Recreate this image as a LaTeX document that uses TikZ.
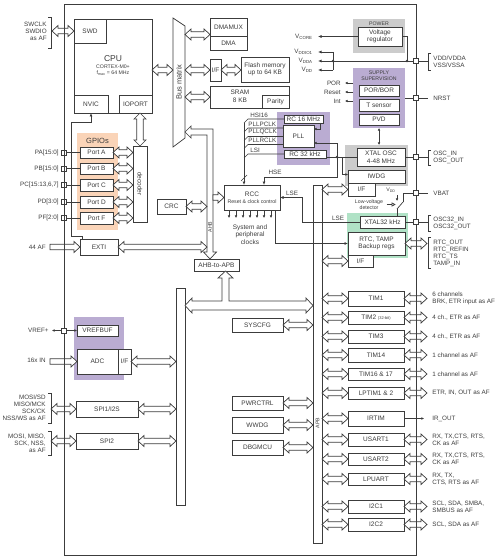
\documentclass[tikz,border=0pt]{standalone}
\usepackage{fontspec}
\setmainfont{Liberation Sans}
\usetikzlibrary{calc,arrows.meta}

\definecolor{ln}{RGB}{60,60,60}
\definecolor{gpiobg}{RGB}{250,212,184}
\definecolor{lilac}{RGB}{186,172,210}
\definecolor{pwrgrey}{RGB}{204,204,204}
\definecolor{rtcgreen}{RGB}{176,226,198}

\newcommand\fsmall{\fontsize{6.5}{7.6}\selectfont}
\newcommand\flbl{\fontsize{6.3}{7}\selectfont}
\newcommand\ftiny{\fontsize{5.2}{6.3}\selectfont}
\newcommand\fmicro{\fontsize{4}{4.5}\selectfont}
\newcommand\fmid{\fontsize{7.5}{9}\selectfont}
\newcommand\fbig{\fontsize{8.5}{10}\selectfont}

% box from corner (x1,y1) to corner (x2,y2), y runs downwards
\newcommand\blk[7][]{\node[blkbox,#1,minimum width={(#5-#3)*1pt},minimum height={(#6-#4)*1pt}] (#2) at ({(#3+#5)/2},{(#4+#6)/2}) {#7};}
% hollow bus arrows
\newcommand\dbarh[2]{\draw[fatarr] let \p1=(#1), \p2=(#2) in (\x1,\y1) -- ++(6pt,5.5pt) -- ++(0pt,-2.8pt) -- ({\x2-6pt},{\y1+2.7pt}) -- ++(0pt,2.8pt) -- (\x2,\y1) -- ++(-6pt,-5.5pt) -- ++(0pt,2.8pt) -- ({\x1+6pt},{\y1-2.7pt}) -- ++(0pt,-2.8pt) -- cycle;}
\newcommand\sarh[2]{\draw[fatarr] let \p1=(#1), \p2=(#2) in (\x1,{\y1+2.7pt}) -- ({\x2-6pt},{\y1+2.7pt}) -- ++(0pt,2.8pt) -- (\x2,\y1) -- ++(-6pt,-5.5pt) -- ++(0pt,2.8pt) -- (\x1,{\y1-2.7pt}) -- cycle;}
\newcommand\dbarv[2]{\draw[fatarr] let \p1=(#1), \p2=(#2) in (\x1,\y1) -- ++(6pt,-6pt) -- ++(-2.8pt,0pt) -- ({\x1+3.2pt},{\y2+6pt}) -- ++(2.8pt,0pt) -- (\x1,\y2) -- ++(-6pt,6pt) -- ++(2.8pt,0pt) -- ({\x1-3.2pt},{\y1-6pt}) -- ++(-2.8pt,0pt) -- cycle;}
% pin brackets
\newcommand\lbrak[3]{\draw (#1,#2) -- ({#1+3},#2) -- ({#1+3},#3) -- (#1,#3);}
\newcommand\rbrak[3]{\draw ({#1+3},#2) -- (#1,#2) -- (#1,#3) -- ({#1+3},#3);}

\begin{document}
\begin{tikzpicture}[x=1pt,y=-1pt,line width=0.7pt,color=ln,
  blkbox/.style={draw,fill=white,inner sep=0pt,outer sep=0pt,align=center,font=\fsmall},
  fatarr/.style={draw,fill=white,line join=miter},
  padsq/.style={draw,fill=white,minimum size=5pt,inner sep=0pt,outer sep=0pt},
  lbl/.style={inner sep=0pt,font=\flbl},
  arr/.style={-{Latex[length=3.5pt,width=3pt]}},
  arrs/.style={-{Latex[length=2.6pt,width=2.6pt]}},
  arrd/.style={{Latex[length=2.6pt,width=2.6pt]}-{Latex[length=2.6pt,width=2.6pt]}}]
\useasboundingbox (0,0) rectangle (499,559);

% shaded groups
\blk[draw=none,fill=pwrgrey]{power}{353}{19}{405}{53}{}
\blk[draw=none,fill=lilac]{supv}{353}{68}{405}{128}{}
\blk[draw=none,fill=lilac]{pllgrp}{277}{112}{330}{165}{}
\blk[draw=none,fill=pwrgrey]{oscgrp}{345}{145}{408}{186}{}
\blk[draw=none,fill=rtcgreen]{rtcgrp}{347}{213}{408}{258}{}
\blk[draw=none,fill=gpiobg]{gpiogrp}{77}{133}{118}{230}{}
\blk[draw=none,fill=lilac]{vrefgrp}{74}{317}{124}{380}{}
\node[font=\ftiny] (powertxt) at (379,23.5) {POWER};
\node[font=\ftiny,align=center] (supvtxt) at (379,75.5) {SUPPLY\\SUPERVISION};
\node[font=\fmid] (gpiotxt) at (97.5,140.5) {GPIOs};

% core
\blk{cpu}{74}{19}{152}{113}{}
\blk{swd}{74}{19}{106}{43}{SWD}
\blk{nvic}{74}{95}{108}{113}{NVIC}
\blk{ioport}{119}{95}{152}{113}{IOPORT}
\node[font=\fbig] (cputxt) at (113,59) {CPU};
\node[font=\ftiny,align=center] (cpusub) at (113,70.5) {CORTEX-M0+\\f\textsubscript{max} = 64 MHz};

\draw (173,18) -- (185,26) -- (185,138) -- (173,147) -- cycle;
\node[rotate=90,font=\fmid] (bmtxt) at (179,82) {Bus matrix};
\coordinate (bml) at (173,70);
\coordinate (bmr) at (185,0);

\blk{dmamux}{210}{18}{247}{36}{DMAMUX}
\blk{dma}{210}{36}{247}{50}{DMA}
\blk{flashif}{210}{59}{221}{81}{I/F}
\blk{flash}{241}{57}{289}{82}{Flash memory\\up to 64 KB}
\blk{sram}{210}{86}{289}{108}{}
\blk{parity}{262}{95}{289}{108}{Parity}
\node[font=\fsmall,align=center] (sramtxt) at (240,96) {SRAM\\8 KB};

% clocks
\blk{rc16}{284}{115}{323}{123}{RC 16 MHz}
\blk{pll}{283}{125}{314}{147}{PLL}
\blk{rc32}{284}{150}{326}{158}{RC 32 kHz}
\blk{rcc}{224}{185}{280}{210}{}
\node[font=\fsmall] (rcctxt) at (252,194.5) {RCC};
\node[font=\ftiny] (rccsub) at (252,202) {Reset \& clock control};
\node[font=\fsmall,align=center] (clktxt) at (250,234.5) {System and\\peripheral\\clocks};

\blk{crc}{157}{199}{186}{214}{CRC}
\blk{exti}{80}{239}{118}{255}{EXTI}
\blk{ahbapb}{194}{259}{239}{271}{AHB-to-APB}
\blk{decoder}{133}{146}{147}{222}{}
\node[rotate=-90,font=\fsmall] (dectxt) at (decoder) {decoder};

% power and backup domain
\blk{vreg}{358}{27}{402}{46}{Voltage\\regulator}
\blk{porbor}{359}{85}{399}{96}{POR/BOR}
\blk{tsens}{359}{99}{399}{111}{T sensor}
\blk{pvd}{359}{114}{399}{125}{PVD}
\blk{xtalosc}{357}{148}{405}{166}{XTAL OSC\\4-48 MHz}
\blk{iwdg}{348}{170}{405}{183}{IWDG}
\blk{iwdgif}{348}{183}{375}{196}{I/F}
\blk{xtal32}{360}{216}{405}{228}{XTAL32 kHz}
\blk{rtc}{348}{232}{405}{255}{RTC, TAMP\\Backup regs}
\blk{rtcif}{348}{255}{373}{267}{I/F}

% analog and spi
\blk{vrefbuf}{77}{325}{118}{336}{VREFBUF}
\blk{adc}{77}{349}{118}{374}{ADC}
\blk{adcif}{118}{349}{131}{374}{I/F}
\blk{spi1}{76}{401}{138}{417}{SPI1/I2S}
\blk{spi2}{76}{433}{138}{449}{SPI2}

% APB buses
\blk{apbl}{176}{288}{185}{505}{}
\blk{apbr}{313}{185}{322}{543}{}
\node[rotate=90,font=\ftiny] (apbtxt) at (317.5,423) {APB};
\blk{syscfg}{232}{318}{283}{332}{SYSCFG}
\blk{pwrctrl}{232}{396}{283}{410}{PWRCTRL}
\blk{wwdg}{232}{417}{283}{433}{WWDG}
\blk{dbgmcu}{232}{440}{283}{455}{DBGMCU}
\foreach \bx in {syscfg,pwrctrl,wwdg,dbgmcu} {\dbarh{\bx.east}{apbr.west |- \bx.east}}

% GPIO ports
\foreach \g/\tp/\bt/\nm in {A/147/158/{PA[15:0]}, B/163/174/{PB[15:0]}, C/179/191/{PC[15:13,6,7]}, D/196/208/{PD[3:0]}, F/212/224/{PF[2:0]}} {
  \blk{port\g}{80}{\tp}{113}{\bt}{Port \g}
  \node[padsq] (pad\g) at (64,{(\tp+\bt)/2}) {};
  \draw (pad\g) -- (port\g);
  \node[lbl,anchor=east] (padlbl\g) at (59,{(\tp+\bt)/2}) {\nm};
  \dbarh{port\g.east}{decoder.west |- port\g.east}
}

% timers and serial on APB
\foreach \bx/\tp/\bt/\nm/\lab in {
  tim1/291/306/TIM1/{6 channels\\BRK, ETR input as AF},
  tim2/311/324/{TIM2 {\fmicro(32-bit)}}/{4 ch., ETR as AF},
  tim3/330/343/TIM3/{4 ch., ETR as AF},
  tim14/348/362/TIM14/{1 channel as AF},
  tim16/368/380/{TIM16 \& 17}/{1 channel as AF},
  lptim/387/399/{LPTIM1 \& 2}/{ETR, IN, OUT as AF},
  usart1/433/446/USART1/{RX, TX,CTS, RTS,\\CK as AF},
  usart2/453/465/USART2/{RX, TX,CTS, RTS,\\CK as AF},
  lpuart/473/485/LPUART/{RX, TX,\\CTS, RTS as AF},
  i2c1/500/513/I2C1/{SCL, SDA, SMBA,\\SMBUS as AF},
  i2c2/518/531/I2C2/{SCL, SDA as AF}} {
  \blk{\bx}{348}{\tp}{404}{\bt}{\nm}
  \dbarh{apbr.east |- \bx.west}{\bx.west}
  \dbarh{\bx.east}{$(\bx.east)+(23,0)$}
  \node[lbl,anchor=west,align=left] (\bx-txt) at ($(\bx.east)+(28,0)$) {\lab};
}
\blk{irtim}{348}{411}{404}{426}{IRTIM}
\dbarh{apbr.east |- irtim.west}{irtim.west}
\coordinate (irout) at ($(irtim.east)+(20,0)$);
\draw[arrs] (irtim.east) -- (irout);
\node[lbl,anchor=west] (irtxt) at (432,418.5) {IR\_OUT};

% clock tree
\foreach \src/\yy in {rc16/119, pll/128, pll/136.5, pll/144.5, rc32/154}
  \draw (\src.west |- 0,\yy) -- (248,\yy) -- (244,{\yy+4});
\draw[arr] (244,123) -- (rcc.north -| 244,0);
\draw (241,181) -- (247,175);
\node[lbl,anchor=south west] (hsitxt) at (250,117.5) {HSI16};
\node[lbl,anchor=south west] (pclktxt) at (248,126.8) {PLLPCLK};
\node[lbl,anchor=south west] (qclktxt) at (248,135.3) {PLLQCLK};
\node[lbl,anchor=south west] (rclktxt) at (248,143.3) {PLLRCLK};
\node[lbl,anchor=south west] (lsitxt) at (250,152.8) {LSI};
\draw[arrs] ($(rc16.south east)+(-3,0)$) |- ($(pll.north east)+(0,4)$);
\coordinate (hsejn) at (337,157);
\draw (xtalosc.west) -- (hsejn);
\fill (hsejn) circle (1.3pt);
\draw[arrs] (hsejn) |- ($(pll.south east)+(0,-4)$);
\draw[arr] (hsejn) |- ($(rcc.north)+(12,-8)$) -- ($(rcc.north)+(12,0)$);
\node[lbl] (hsetxt) at (275,172.5) {HSE};
\draw[arrs] (rc32.east |- hsejn) -| ($(iwdg.west)+(-6,-2)$) -- ($(iwdg.west)+(0,-2)$);
\draw[arr] (xtal32.west) -| ($(rcc.east)+(22,0)$) -- (rcc.east);
\node[lbl] (lsetxt) at (292,193.5) {LSE};
\node[lbl] (lse32txt) at (338,218.5) {LSE};
\draw[arr] ($(rcc.south)+(23,0)$) |- (rtc.west);
\foreach \i in {0,...,6} \draw[arrs] ($(rcc.south west)+({5+7*\i},0)$) -- ++(0,8);

% supply signals
\coordinate (vcore) at (318,36.5);
\draw[arr] (vreg.west) -- (vcore);
\coordinate (vddjn) at (333,61);
\coordinate (vddio) at (318,52);
\coordinate (vdda) at (318,61);
\coordinate (vddd) at (318,70);
\coordinate (regjn) at (407,61);
\draw (vddjn |- vddio) -- (vddjn |- vddd);
\draw[arr] (vddjn |- vddio) -- (vddio);
\draw[arr] (vddjn |- vddd) -- (vddd);
\draw (vreg.east) -| (regjn);
\foreach \sg/\yy in {POR/83, Reset/92, Int/101} {
  \coordinate (sig\sg) at (345,\yy);
  \draw[arrs] (supv.west |- sig\sg) -- (sig\sg);
  \node[lbl,anchor=east] (sigtxt\sg) at (341,\yy) {\sg};
}
\draw[arrd] (supv.south) -- (supv.south |- oscgrp.north);
\node[lbl,anchor=east] (vcoretxt) at (313,36.5) {V\textsubscript{CORE}};
\node[lbl,anchor=east] (vddiotxt) at (313,52) {V\textsubscript{DDIO1}};
\node[lbl,anchor=east] (vddatxt) at (313,61) {V\textsubscript{DDA}};
\node[lbl,anchor=east] (vddtxt) at (313,70) {V\textsubscript{DD}};

% vbat switch
\coordinate (swtop) at (403,202);
\coordinate (swbot) at (397,209);
\coordinate (vddsw) at (397,201);
\draw (swbot) -- (swtop);
\draw (swbot) -- (swbot |- xtal32.north);
\draw[arrs] ($(vddsw)+(0,-6)$) -- (vddsw);
\node[font=\ftiny] (vddswtxt) at (391,190) {V\textsubscript{DD}};
\node[font=\ftiny,align=center] (lvd) at (369,204.5) {Low-voltage\\detector};
\draw[-{Triangle[open,length=4pt,width=4pt]}] (lvd.east) -- ++(9pt,0pt);

% analog side
\coordinate (vrefout) at (52,330.5);
\coordinate (afin) at (50,247);
\coordinate (adcin) at (50,361.5);
\sarh{afin}{exti.west}
\sarh{adcin}{adc.west}
\dbarh{adcif.east}{apbl.west |- adcif.east}
\coordinate (spi1ext) at (51,409);
\coordinate (spi2ext) at (51,441);
\dbarh{spi1ext}{spi1.west}
\dbarh{spi2ext}{spi2.west}
\dbarh{spi1.east}{apbl.west |- spi1.east}
\dbarh{spi2.east}{apbl.west |- spi2.east}

% buses
\coordinate (swdext) at (52,31);
\dbarh{swdext}{swd.west}
\dbarh{cpu.east |- bml}{bml}
\dbarh{$(bmr |- dmamux.south)+(0,-1.5)$}{$(dmamux.south west)+(0,-1.5)$}
\dbarh{bmr |- flashif.west}{flashif.west}
\dbarh{flashif.east}{flash.west |- flashif.east}
\dbarh{bmr |- sram.west}{sram.west}
\dbarv{ioport.south -| decoder.north}{decoder.north}
\draw[fatarr] (185,132) -- (191,126) -- (191,129) -- (213,129) -- (213,252) -- (216.5,252) -- (210,259) -- (203.5,252) -- (207,252) -- (207,135) -- (191,135) -- (191,138) -- cycle;
\node[rotate=90,font=\ftiny] (ahbtxt) at (210,227) {AHB};
\coordinate (ahbl) at (207,0);
\coordinate (ahbr) at (213,0);
\dbarh{crc.east}{ahbl |- crc.east}
\dbarh{exti.east}{ahbl |- exti.east}
\sarh{ahbr |- rcc.west}{rcc.west}
\draw[fatarr] (185,305.5) -- (192,298) -- (192,301) -- (222,301) -- (222,278) -- (218,278) -- (225.5,271) -- (233,278) -- (229,278) -- (229,301) -- (306,301) -- (306,298) -- (313,305.5) -- (306,313) -- (306,310) -- (192,310) -- (192,313) -- cycle;
\dbarh{apbr.east |- iwdgif.west}{iwdgif.west}
\dbarh{apbr.east |- rtcif.west}{rtcif.west}
\dbarh{rtc.east}{$(rtc.east)+(22,0)$}

\draw[arr] ($(exti.north west)+(2,0)$) -- ++(0,-3) -| (71,122) -| (nvic.south);

% chip outline and pads
\blk[fill=none,line width=0.9pt]{chip}{64}{4}{416}{555}{}
\node[padsq] (padvref) at (64,330.5) {};
\draw[arrs] (padvref) -- (vrefout);
\draw[arrs] (padvref) -- (vrefbuf);
\node[padsq] (pvdd) at (416,61) {};
\node[padsq] (pnrst) at (416,98) {};
\node[padsq] (posc) at (416,157) {};
\node[padsq] (pvbat) at (416,193) {};
\node[padsq] (posc32) at (416,222) {};
\coordinate (bvdd) at (428,61);
\coordinate (bnrst) at (428,98);
\coordinate (bosc) at (428,157);
\coordinate (bvbat) at (428,193);
\coordinate (bosc32) at (428,222);
\draw[arr] (pvdd) -- (vdda);
\fill (vddjn) circle (1.3pt);
\fill (regjn) circle (1.3pt);
\draw (pvdd) -- (bvdd);
\draw (supv.east |- pnrst) -- (pnrst) -- (bnrst);
\draw (xtalosc.east) -- (posc) -- (bosc);
\draw (pvbat) -- (bvbat);
\draw (pvbat) -| (swtop);
\draw (xtal32.east) -- (posc32) -- (bosc32);

% outside labels
\lbrak{48}{17}{48}
\node[lbl,anchor=east,align=right] (swdlbl) at (47,31.5) {SWCLK\\SWDIO\\as AF};
\node[lbl,anchor=east] (aftxt) at (46,247.5) {44 AF};
\node[lbl,anchor=east] (vreftxt) at (49,330.5) {VREF+};
\node[lbl,anchor=east] (adcintxt) at (46,360) {16x IN};
\lbrak{48}{393}{423}
\node[lbl,anchor=east,align=right] (spi1lbl) at (46,408) {MOSI/SD\\MISO/MCK\\SCK/CK\\NSS/WS as AF};
\lbrak{48}{431}{455}
\node[lbl,anchor=east,align=right] (spi2lbl) at (46,443.5) {MOSI, MISO,\\SCK, NSS,\\as AF};
\rbrak{428}{53}{70}
\node[lbl,anchor=west,align=left] (vddlbl) at (433,62) {VDD/VDDA\\VSS/VSSA};
\node[lbl,anchor=west] (nrstlbl) at (433,98) {NRST};
\rbrak{428}{150}{165}
\node[lbl,anchor=west,align=left] (osclbl) at (433,157) {OSC\_IN\\OSC\_OUT};
\node[lbl,anchor=west] (vbatlbl) at (433,193) {VBAT};
\rbrak{428}{215}{231}
\node[lbl,anchor=west,align=left] (osc32lbl) at (433,223) {OSC32\_IN\\OSC32\_OUT};
\rbrak{428}{237}{268}
\node[lbl,anchor=west,align=left] (rtclbl) at (433,253) {RTC\_OUT\\RTC\_REFIN\\RTC\_TS\\TAMP\_IN};
\end{tikzpicture}
\end{document}
